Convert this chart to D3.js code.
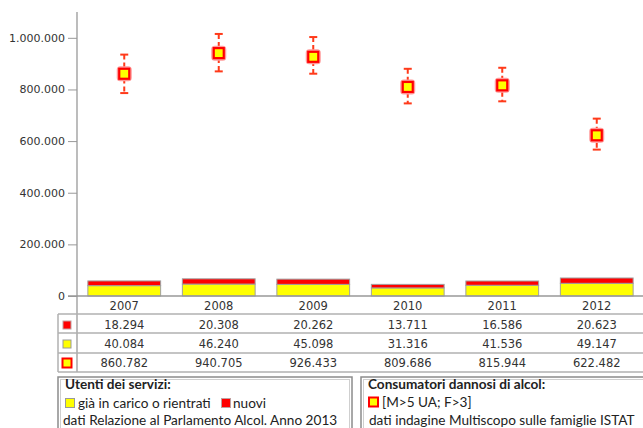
<!DOCTYPE html>
<html>
<head>
<meta charset="utf-8">
<script src="https://cdn.jsdelivr.net/npm/d3@7"></script>
<style>
  body { margin: 0; background: #fff; }
  svg { display: block; }
  .tick text { font-family: "DejaVu Sans", Verdana, sans-serif; font-size: 11px; fill: #333; }
  .tbl { font-family: "DejaVu Sans", Verdana, sans-serif; font-size: 11.5px; fill: #333; }
  .leg { font-family: Lato, "Open Sans", sans-serif; font-size: 13.6px; fill: #222; }
</style>
</head>
<body>
<svg width="643" height="428"></svg>
<script>
var years = ["2007", "2008", "2009", "2010", "2011", "2012"];
var nuovi = [18294, 20308, 20262, 13711, 16586, 20623];
var giaInCarico = [40084, 46240, 45098, 31316, 41536, 49147];
var consumatori = [860782, 940705, 926433, 809686, 815944, 622482];
// error bar ends
var errLow = [786000, 870000, 861000, 746000, 754000, 567000];
var errHigh = [935000, 1015000, 1003000, 880000, 884000, 687000];
var yTicks = [0, 200000, 400000, 600000, 800000, 1000000];

var svg = d3.select("svg");

var it = d3.formatLocale({decimal: ",", thousands: ".", grouping: [3], currency: ["", ""]});
var fmt = it.format(",");

var x = d3.scaleBand()
    .domain(years)
    .range([77, 644])
    .paddingInner(0.23)
    .paddingOuter(0.115);

var y = d3.scaleLinear()
    .domain([0, 1100000])
    .range([296, 12]);

var rows = years.map(function(d, i) {
  return {year: d, nuovi: nuovi[i], gia: giaInCarico[i], cons: consumatori[i], lo: errLow[i], hi: errHigh[i]};
});

// y axis
var yAxis = svg.append("g")
    .attr("transform", "translate(77,0)")
    .call(d3.axisLeft(y).tickValues(yTicks).tickFormat(fmt).tickSize(9).tickPadding(3));
yAxis.select(".domain").remove();
yAxis.selectAll(".tick line").attr("stroke", "#999");

// axis line, runs down through the table
svg.append("line")
    .attr("x1", 77).attr("x2", 77)
    .attr("y1", y(1100000)).attr("y2", 372)
    .attr("stroke", "#999").attr("stroke-width", 1.3);

// stacked bars
var bars = svg.append("g");
bars.selectAll(".gia")
    .data(rows)
  .enter().append("rect")
    .attr("x", function(d) { return x(d.year); })
    .attr("width", x.bandwidth())
    .attr("y", function(d) { return y(d.gia); })
    .attr("height", function(d) { return y(0) - y(d.gia); })
    .attr("fill", "#ffff00")
    .attr("stroke", "#a0a0a0").attr("stroke-width", 1);
bars.selectAll(".nuovi")
    .data(rows)
  .enter().append("rect")
    .attr("x", function(d) { return x(d.year); })
    .attr("width", x.bandwidth())
    .attr("y", function(d) { return y(d.gia + d.nuovi); })
    .attr("height", function(d) { return y(d.gia) - y(d.gia + d.nuovi); })
    .attr("fill", "#ff0000")
    .attr("stroke", "#a0a0a0").attr("stroke-width", 1);

// baseline
svg.append("line")
    .attr("x1", 68).attr("x2", 643)
    .attr("y1", y(0)).attr("y2", y(0))
    .attr("stroke", "#999").attr("stroke-width", 1.3);

// error bars + markers
var cx = function(d) { return x(d.year) + x.bandwidth() / 2; };
var pts = svg.append("g").selectAll("g")
    .data(rows)
  .enter().append("g");
pts.append("line")
    .attr("x1", cx).attr("x2", cx)
    .attr("y1", function(d) { return y(d.hi); })
    .attr("y2", function(d) { return y(d.lo); })
    .attr("stroke", "#ff3a1a").attr("stroke-width", 2)
    .attr("stroke-dasharray", "5,3");
["hi", "lo"].forEach(function(k) {
  pts.append("line")
      .attr("x1", function(d) { return cx(d) - 4; })
      .attr("x2", function(d) { return cx(d) + 4; })
      .attr("y1", function(d) { return y(d[k]); })
      .attr("y2", function(d) { return y(d[k]); })
      .attr("stroke", "#ff3a1a").attr("stroke-width", 2);
});
pts.append("rect")
    .attr("x", function(d) { return cx(d) - 6; })
    .attr("y", function(d) { return y(d.cons) - 6; })
    .attr("width", 12).attr("height", 12)
    .attr("fill", "none")
    .attr("stroke", "#ff9a9a").attr("stroke-width", 3).attr("rx", 2);
pts.append("rect")
    .attr("x", function(d) { return cx(d) - 5; })
    .attr("y", function(d) { return y(d.cons) - 5; })
    .attr("width", 10).attr("height", 10)
    .attr("fill", "#ffff00")
    .attr("stroke", "#ff0000").attr("stroke-width", 2.2);

// data table
var rowY = [306, 325, 344, 363];
[314, 333, 353, 372].forEach(function(ly) {
  svg.append("line")
      .attr("x1", 58).attr("x2", 643)
      .attr("y1", ly).attr("y2", ly)
      .attr("stroke", "#b0b0b0").attr("stroke-width", 1.5);
});
svg.append("line")
    .attr("x1", 58).attr("x2", 58)
    .attr("y1", 314).attr("y2", 372)
    .attr("stroke", "#b0b0b0").attr("stroke-width", 1.5);

var series = [years, nuovi.map(fmt), giaInCarico.map(fmt), consumatori.map(fmt)];
series.forEach(function(vals, r) {
  svg.append("g").selectAll("text")
      .data(vals)
    .enter().append("text")
      .attr("class", "tbl")
      .attr("x", function(d, i) { return x(years[i]) + x.bandwidth() / 2; })
      .attr("y", rowY[r])
      .attr("dy", "0.35em")
      .attr("text-anchor", "middle")
      .text(function(d) { return d; });
});

// table legend keys
svg.append("rect").attr("x", 63).attr("y", rowY[1] - 4).attr("width", 8).attr("height", 8)
    .attr("fill", "#ff0000").attr("stroke", "#c0a0a0").attr("stroke-width", 1);
svg.append("rect").attr("x", 63).attr("y", rowY[2] - 4).attr("width", 8).attr("height", 8)
    .attr("fill", "#ffff00").attr("stroke", "#999").attr("stroke-width", 1);
svg.append("rect").attr("x", 62.5).attr("y", rowY[3] - 4.5).attr("width", 9).attr("height", 9)
    .attr("fill", "#ffff00").attr("stroke", "#ff0000").attr("stroke-width", 2);

// legend boxes
function box(x0, x1) {
  svg.append("rect").attr("x", x0).attr("y", 377).attr("width", x1 - x0).attr("height", 60)
      .attr("fill", "#fff").attr("stroke", "#8c8c8c").attr("stroke-width", 1.5);
  svg.append("rect").attr("x", x0 + 2.5).attr("y", 379.5).attr("width", x1 - x0 - 5).attr("height", 60)
      .attr("fill", "none").attr("stroke", "#cfcfcf").attr("stroke-width", 1);
}
box(58, 352);
box(361, 660);

function label(tx, ty, s, bold) {
  svg.append("text").attr("class", "leg")
      .attr("x", tx).attr("y", ty)
      .style("font-weight", bold ? "bold" : "normal")
      .text(s);
}
label(65, 389, "Utenti dei servizi:", true);
svg.append("rect").attr("x", 65.5).attr("y", 398.5).attr("width", 9).attr("height", 9)
    .attr("fill", "#ffff00").attr("stroke", "#999");
label(78, 408, "già in carico o rientrati", false);
svg.append("rect").attr("x", 221.5).attr("y", 398.5).attr("width", 9).attr("height", 9)
    .attr("fill", "#ff0000").attr("stroke", "#c0a0a0");
label(233, 408, "nuovi", false);
label(63, 425, "dati Relazione al Parlamento Alcol. Anno 2013", false);

label(368, 389, "Consumatori dannosi di alcol:", true);
svg.append("rect").attr("x", 369).attr("y", 397.5).attr("width", 9).attr("height", 9)
    .attr("fill", "#ffff00").attr("stroke", "#ff0000").attr("stroke-width", 2);
label(382, 407, "[M>5 UA; F>3]", false);
label(369, 425, "dati indagine Multiscopo sulle famiglie ISTAT", false);
</script>
</body>
</html>
